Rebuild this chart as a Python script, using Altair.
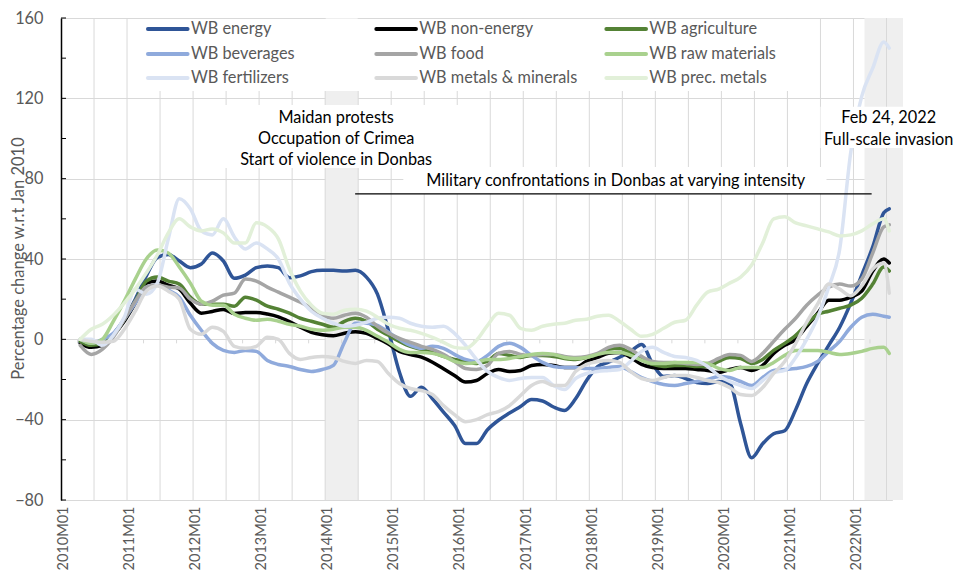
import altair as alt
import pandas as pd

# ---------------- data ----------------
months = [
    "2010M04", "2010M06", "2010M08", "2010M10", "2010M12",
    "2011M02", "2011M04", "2011M06", "2011M08", "2011M10", "2011M12",
    "2012M02", "2012M04", "2012M06", "2012M08", "2012M10", "2012M12",
    "2013M02", "2013M04", "2013M06", "2013M08", "2013M10", "2013M12",
    "2014M02", "2014M04", "2014M06", "2014M08", "2014M10", "2014M12",
    "2015M02", "2015M04", "2015M06", "2015M08", "2015M10", "2015M12",
    "2016M02", "2016M04", "2016M06", "2016M08", "2016M10", "2016M12",
    "2017M02", "2017M04", "2017M06", "2017M08", "2017M10", "2017M12",
    "2018M02", "2018M04", "2018M06", "2018M08", "2018M10", "2018M12",
    "2019M02", "2019M04", "2019M06", "2019M08", "2019M10", "2019M12",
    "2020M02", "2020M04", "2020M06", "2020M08", "2020M10", "2020M12",
    "2021M02", "2021M04", "2021M06", "2021M08", "2021M10", "2021M12",
    "2022M02", "2022M04", "2022M06", "2022M07",
]

series_names = [
    "WB energy", "WB non-energy", "WB agriculture",
    "WB beverages", "WB food", "WB raw materials",
    "WB fertilizers", "WB metals & minerals", "WB prec. metals",
]
series_colors = [
    "#2F5597", "#000000", "#548235",
    "#8FAADC", "#A5A5A5", "#A9D18E",
    "#DAE3F3", "#D9D9D9", "#E2F0D9",
]

energy = [
    -1.5, -2.6, -2.6, 2.6, 10, 20, 31.6, 40.7, 42.3, 39, 35.7, 37.5,
    43, 39, 30.4, 32, 35.7, 36.5, 35.7, 30.7, 31.6, 33.7, 34.4, 34.4,
    34, 34.4, 31, 22.5, 4.3, -16.4, -28.4, -23.8, -29.6, -36.2, -42.8, -51.9,
    -51.9, -45, -40.3, -36.7, -33.4, -30, -30.7, -33.7, -35.4, -29.6, -20.5, -13.6,
    -11.4, -8.9, -6, -2.6, -12.2, -18.5, -18, -19.5, -21.5, -22, -21, -22,
    -42, -59, -52, -47, -45.5, -35, -22, -12, -3, 6, 18, 32, 46, 63, 65,
]
non_energy = [
    -2, -4, -3, 2, 9, 18, 28, 29, 27, 25, 18, 13,
    13.9, 14.9, 12.9, 13.4, 13.4, 12.6, 11.2, 8.8, 6, 3.5, 2.3, 1.8,
    3, 3.8, 3, 0.5, -2.3, -6, -7.6, -8.9, -11.4, -14.7, -18, -21.3,
    -20.5, -17, -15, -16, -15.5, -13, -12.5, -13, -14, -14, -11, -9,
    -7, -6.5, -9, -12.5, -14, -14.5, -14.5, -14.5, -15, -15.5, -16.5, -15,
    -14, -15.5, -13, -7, -3, 0, 6.5, 13, 19.5, 19.5, 21, 24, 34, 40, 38,
]
agriculture = [
    -1, -3, -2, 2, 10, 19, 29, 31, 29, 27.5, 21, 17.5,
    17.5, 17.5, 16.5, 21, 19.5, 16.5, 15, 13, 10.5, 9, 7.5, 6,
    9, 10.5, 9, 5, 2, -1, -3.5, -5, -6.5, -8.5, -10, -11,
    -12, -11, -7, -8, -9, -8, -8, -8.5, -9.5, -10, -9, -7.5,
    -5, -4.5, -7, -10, -12.5, -13.5, -13, -13, -13.5, -13.5, -11, -9,
    -9.5, -12, -10, -5.5, -2, 2, 7.5, 12.5, 14, 15.5, 17, 20.5, 27.5, 36, 34,
]
beverages = [
    0, -2, 0, 3, 10, 18, 26, 27, 24.5, 21, 12, 4.5,
    -2, -5.5, -6.5, -5.5, -6, -10.5, -12.5, -13.5, -15, -16, -15, -13,
    -1.5, 8, 8, 7, 3.5, 0, -3, -4.5, -3.5, -4.5, -7.5, -10,
    -11, -8, -3.5, -2, -4, -8, -11.5, -13.5, -14, -14, -14.5, -14.5,
    -14, -13.5, -16, -19, -21, -22.5, -23, -22, -21, -20, -18.5, -19,
    -21, -23, -19, -15.5, -15, -14.5, -13.5, -11, -6, -1, 6, 11, 12.5, 11.5, 11,
]
food = [
    -3, -7.5, -5, 1, 10, 19, 26, 27, 26, 25.5, 20, 17.5,
    19, 22, 23, 30, 29, 26, 23.5, 21, 18.5, 15.5, 12, 10.5,
    12, 13, 11, 6.5, 3, 0.5, -1.5, -3.5, -5, -7.5, -11, -14.5,
    -15, -13, -7, -6, -7.5, -8, -7.5, -7.5, -8.5, -9, -8.5, -7,
    -4, -3, -5, -8.5, -11, -11.5, -11.5, -12, -12.5, -12, -9.5, -7.5,
    -8, -11, -7, -1, 5, 10.5, 17, 22, 26, 27.5, 26.5, 30, 43, 56, 57,
]
raw_materials = [
    0, -2, 0, 9, 19, 30, 40, 44.5, 43, 36, 28, 19,
    17, 17, 12.5, 10.5, 9.5, 10, 9, 7.5, 6.5, 5, 4.5, 5,
    6, 6, 4.5, 1.5, -1.5, -5, -6.5, -6.5, -7, -8.5, -11, -12,
    -11.5, -10, -10, -9.5, -8.5, -7.5, -7, -7.5, -9, -9.5, -9, -7.5,
    -6.5, -6.5, -8, -10.5, -12, -12, -11.5, -11.5, -11.5, -12, -14.5, -15.5,
    -14, -14, -14, -11.5, -8, -5.5, -5.5, -5.5, -6.5, -7.5, -7, -6, -4.5, -4, -7,
]
fertilizers = [
    0, 0, -3, 2, 11, 25, 22.5, 28, 50, 70, 65, 54,
    52, 60, 51, 45, 48, 45, 40, 28, 20, 14, 10.5, 8,
    6.5, 7, 8.5, 10.5, 11, 10.5, 8, 6.5, 6, 6.5, 3, -3,
    -10, -16, -19, -20.5, -19.5, -19, -19, -23, -25, -19.5, -17, -16,
    -15.5, -15, -11, -6, -4, -6.5, -8.5, -9, -10.5, -13.5, -18, -21,
    -23, -24.5, -20.5, -16.5, -15.5, -9, 0, 11, 26, 45, 93, 121, 135, 148, 145,
]
metals_minerals = [
    0, -1, -1.5, -1, 5, 14, 24, 26.5, 24, 20, 5, 2.5,
    6, 4, -3.5, -4.5, -3.5, 1, 0, -7, -10, -9, -8.5, -9,
    -11, -12, -10.5, -11, -17, -22, -24.5, -25.5, -27.5, -33, -37.5, -41,
    -40, -37.5, -36, -33, -28, -23, -21, -23, -23, -16, -12.5, -11,
    -10.5, -11.5, -16, -19.5, -20.5, -19, -18, -18, -19, -20.5, -21.5, -24,
    -27.5, -28, -24, -17, -11, -2, 8.5, 17.6, 27.5, 25, 21.7, 26.6, 35, 38, 23,
]
prec_metals = [
    0, 5, 7.5, 12, 18, 25, 33, 42, 53, 60, 56, 54,
    55, 53, 48, 48, 58, 56, 50, 35, 24, 17, 13, 12.5,
    14.5, 15, 14, 11, 7.5, 5.5, 4.5, 3, 1, -1.5, -4, -4.5,
    -0.5, 7, 13, 12, 5.5, 4.5, 6.5, 7.5, 8, 9.5, 10, 11.5,
    12, 9, 5, 1.5, 2.5, 5.5, 8.5, 9.5, 17, 23.5, 25, 28,
    31, 37, 48, 60, 61, 58, 56.5, 55, 53.5, 51.5, 52, 54, 57.5, 60, 54,
]
series_values = [energy, non_energy, agriculture, beverages, food,
                 raw_materials, fertilizers, metals_minerals, prec_metals]

# shaded periods (first month, month after last)
band_start = ["2014M01", "2022M03"]
band_end = ["2014M07", "2022M10"]

annotation_lines = ["Maidan protests", "Occupation of Crimea", "Start of violence in Donbas",
                    "Military confrontations in Donbas at varying intensity",
                    "Feb 24, 2022", "Full-scale invasion"]

# ---------------- helpers ----------------
def month_index(m):
    return (int(m[:4]) - 2010) * 12 + int(m[5:]) - 1

rows = []
for name, vals in zip(series_names, series_values):
    for m, v in zip(months, vals):
        rows.append({"series": name, "x": month_index(m) + 0.5, "y": v})
df = pd.DataFrame(rows)

FONT = "Lato"
FS = 16.3
GRID = "#D9D9D9"
N_CAT = 151
H = 482

XS = alt.Scale(domain=[0, N_CAT], nice=False, zero=False)
YS = alt.Scale(domain=[-80, 160], nice=False, zero=False)

x_axis = alt.Axis(
    values=[0.5 + 12 * k for k in range(13)],
    labelExpr="(2010 + floor(datum.value / 12)) + 'M01'",
    labelAngle=-90, grid=False, ticks=False, domain=False,
    labelPadding=6, labelFontSize=14.5, labelColor="#595959", labelFont=FONT,
    labelOverlap=False, labelFlush=False, title=None,
)
y_axis = alt.Axis(
    values=list(range(-80, 161, 40)), grid=True, gridColor=GRID, gridWidth=1,
    ticks=False, domain=True, domainColor="#000000", domainWidth=1.5,
    labelPadding=18, labelFontSize=FS, labelColor="#595959", labelFont=FONT,
    title="Percentage change w.r.t Jan 2010", titleFont=FONT, titleFontSize=16.5,
    titleFontWeight="normal", titleColor="#595959", titleX=-43, titleY=240,
    titleAngle=270, titleAlign="center", titleBaseline="middle",
)


def X(field):
    return alt.X(field, scale=XS, axis=x_axis)


def Y(field):
    return alt.Y(field, scale=YS, axis=y_axis)


layers = []

# shaded periods
bands_df = pd.DataFrame({"s": [month_index(m) for m in band_start],
                         "e": [month_index(m) for m in band_end]})
layers.append(alt.Chart(bands_df).mark_rect(color="#EFEFEF").encode(
    x=X("s:Q"), x2="e:Q", y=alt.value(0), y2=alt.value(H)))

# vertical gridlines every 6 months
vgrid_df = pd.DataFrame({"g": list(range(6, N_CAT, 6))})
layers.append(alt.Chart(vgrid_df).mark_rule(color=GRID, strokeWidth=1).encode(
    x=X("g:Q"), y=alt.value(0), y2=alt.value(H)))

# small tick marks on the zero line
zt_df = pd.DataFrame({"z": list(range(3, N_CAT, 6)), "a": 0, "b": -2})
layers.append(alt.Chart(zt_df).mark_rule(color=GRID, strokeWidth=1).encode(
    x=X("z:Q"), y=Y("a:Q"), y2="b:Q"))

# series lines (drawn in legend order, later on top)
for name, col in zip(series_names, series_colors):
    sub = df[df["series"] == name]
    layers.append(alt.Chart(sub).mark_line(
        color=col, strokeWidth=3.5, interpolate="monotone",
        strokeCap="round", strokeJoin="round").encode(x=X("x:Q"), y=Y("y:Q")))

# white boxes behind legend and annotations
boxes_df = pd.DataFrame({
    "x0": [14.4, 28.5, 62.2, 138.0],
    "x1": [134.4, 72.8, 139.1, 166.0],
    "y0": [159.5, 85.3, 72.4, 95.3],
    "y1": [123.6, 116.7, 85.8, 115.8],
})
layers.append(alt.Chart(boxes_df).mark_rect(color="white").encode(
    x=X("x0:Q"), x2="x1:Q", y=Y("y0:Q"), y2="y1:Q"))

# y-axis tick marks (inside, every 20)
yt_df = pd.DataFrame({"t": list(range(-80, 161, 20))})
layers.append(alt.Chart(yt_df).mark_rule(color="#000000", strokeWidth=1).encode(
    y=Y("t:Q"), x=alt.value(0), x2=alt.value(5)))

# legend (3 x 3)
col_x = [15.8, 57.3, 99.1]
row_y = [154.5, 142.1, 130.1]
leg = []
for k, name in enumerate(series_names):
    c, r = k % 3, k // 3
    leg.append({"series": name, "x0": col_x[c], "x1": col_x[c] + 7.2,
                "tx": col_x[c] + 7.8, "y": row_y[r]})
leg_df = pd.DataFrame(leg)
color_scale = alt.Scale(domain=series_names, range=series_colors)
layers.append(alt.Chart(leg_df).mark_rule(strokeWidth=4, strokeCap="round").encode(
    x=X("x0:Q"), x2="x1:Q", y=Y("y:Q"),
    color=alt.Color("series:N", scale=color_scale, legend=None)))
layers.append(alt.Chart(leg_df).mark_text(
    align="left", baseline="middle", font=FONT, fontSize=FS, color="#595959").encode(
    x=X("tx:Q"), y=Y("y:Q"), text="series:N"))

# horizontal line for the Donbas period
rule_df = pd.DataFrame({"x0": [53.45], "x1": [147.3], "y": [72.4]})
layers.append(alt.Chart(rule_df).mark_rule(color="#000000", strokeWidth=1.2).encode(
    x=X("x0:Q"), x2="x1:Q", y=Y("y:Q")))

# annotation texts
ann_df = pd.DataFrame({
    "label": annotation_lines,
    "x": [50.0, 50.0, 50.0, 100.8, 150.4, 150.4],
    "y": [110.2, 99.75, 89.3, 78.8, 110.0, 99.5],
})
layers.append(alt.Chart(ann_df).mark_text(
    align="center", baseline="middle", font=FONT, fontSize=FS, color="#000000").encode(
    x=X("x:Q"), y=Y("y:Q"), text="label:N"))

chart = alt.layer(*layers).properties(
    width=831, height=H,
    autosize=alt.AutoSizeParams(type="none"),
    padding={"left": 53, "top": 10, "right": 61, "bottom": 70},
).configure_view(stroke=None).configure(font=FONT)

chart.save("out.html", embed_options={"renderer": "svg", "actions": False})
